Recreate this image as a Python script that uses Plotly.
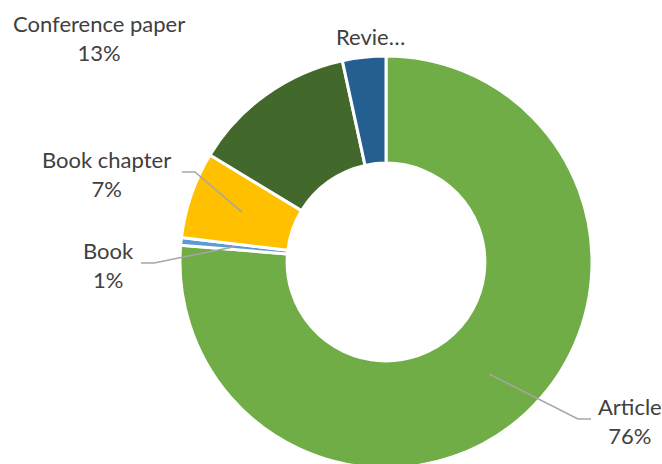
import math
import plotly.graph_objects as go

# ---- data ----
categories = ["Article", "Book", "Book chapter", "Conference paper", "Review"]
values = [76.3, 0.6, 6.8, 12.9, 3.4]
display_labels = ["Article", "Book", "Book chapter", "Conference paper", "Revie…"]
show_percent = [True, True, True, True, False]
colors = ["#70AD47", "#5B9BD5", "#FFC000", "#43682B", "#255E91"]

# ---- layout constants (pixels) ----
W, H = 662, 470   # figure slightly taller than the 464px window; bottom is clipped like the reference
CX, CY, R = 386, 262, 206
HOLE = 0.48

fig = go.Figure(go.Pie(
    labels=categories, values=values, sort=False, direction="clockwise",
    rotation=0, hole=HOLE, textinfo="none", hoverinfo="label+percent",
    marker=dict(colors=colors, line=dict(color="white", width=3)),
    domain=dict(x=[(CX - R) / W, (CX + R) / W],
                y=[1 - (CY + R) / H, 1 - (CY - R) / H]),
    showlegend=False,
))

# label positions (pixel centers of text block) and leader-line end points
label_pos = [(630, 421), (108, 265), (107, 174), (99, 38), (370, 36)]
leader_end = [(591, 419), (141, 263), (182, 172), None, None]
leader_elbow = [(578, 419), (154, 263), (195, 172), None, None]

total = sum(values)
cum = 0.0
annotations = []
shapes = []
for i, v in enumerate(values):
    frac_mid = (cum + v / 2) / total
    cum += v
    ang = 2 * math.pi * frac_mid  # clockwise from top
    rm = R * (1 + HOLE) / 2
    ax = CX + rm * math.sin(ang)
    ay = CY - rm * math.cos(ang)
    pct = round(v / total * 100)
    txt = display_labels[i] + (f"<br>{pct}%" if show_percent[i] else "")
    lx, ly = label_pos[i]
    annotations.append(dict(
        x=lx / W, y=1 - ly / H, xref="paper", yref="paper", text=txt,
        showarrow=False, xanchor="center", yanchor="middle", align="center",
        font=dict(family="Lato, 'Open Sans', sans-serif", size=22, color="#404040"),
    ))
    if leader_end[i] is not None:
        ex, ey = leader_end[i]
        bx, by = leader_elbow[i]
        pts = [(ax, ay), (bx, by), (ex, ey)]
        path = "M " + " L ".join(f"{x / W},{1 - y / H}" for x, y in pts)
        shapes.append(dict(type="path", xref="paper", yref="paper", path=path,
                           line=dict(color="#A6A6A6", width=1.5)))

fig.update_layout(
    width=W, height=H, margin=dict(l=0, r=0, t=0, b=0),
    paper_bgcolor="white", plot_bgcolor="white",
    annotations=annotations, shapes=shapes,
)
fig.write_html("out.html", config={"displayModeBar": False},
               post_script="document.body.style.margin='0';document.body.style.overflow='hidden';")
